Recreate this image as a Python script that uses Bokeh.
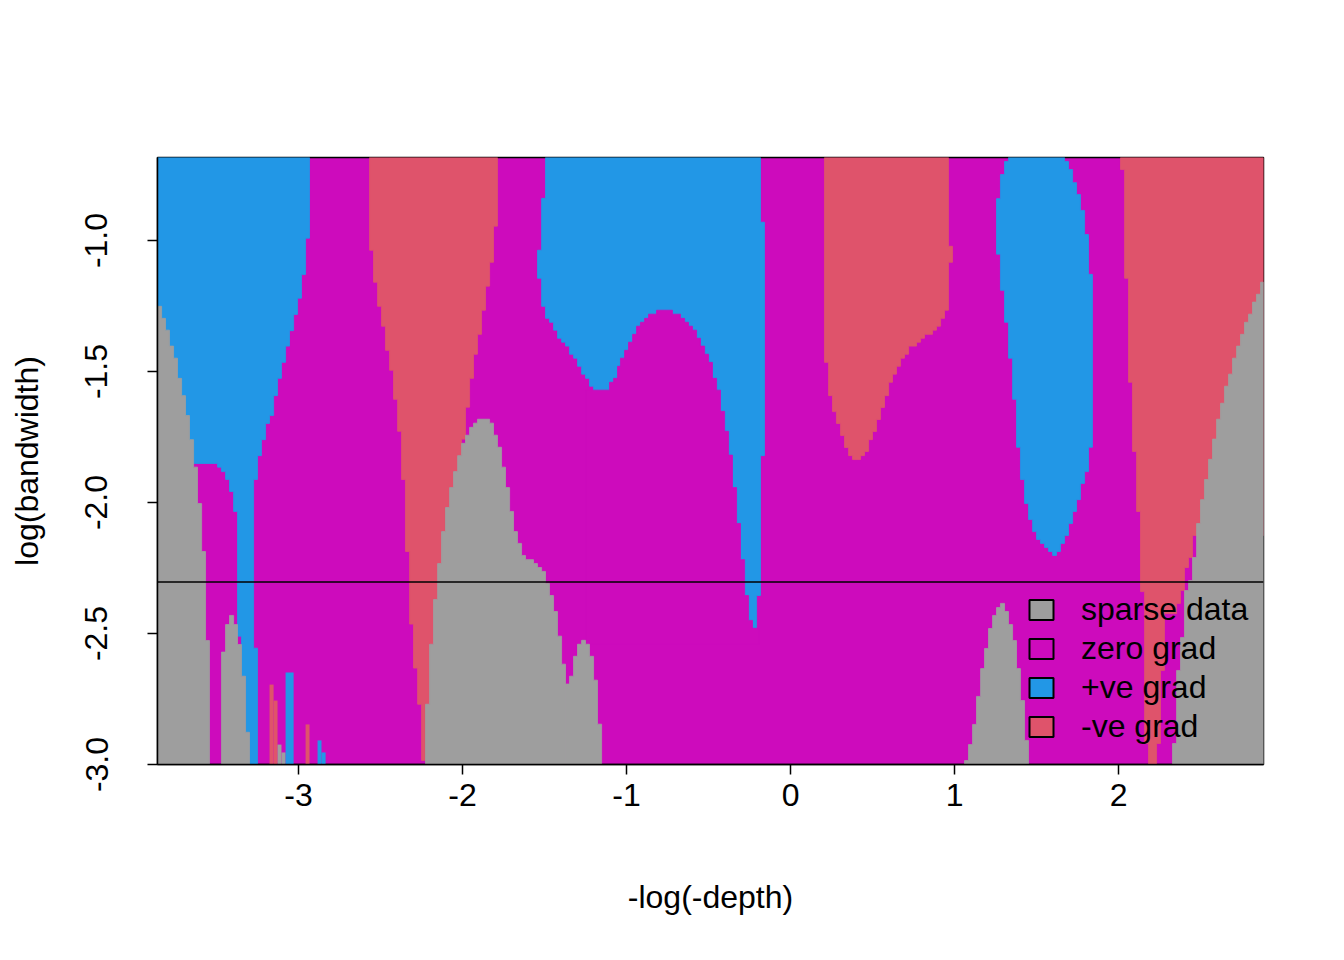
from bokeh.plotting import figure
from bokeh.models import Range1d, FixedTicker, PrintfTickFormatter, Span, Legend, LegendItem
from bokeh.embed import file_html
from bokeh.resources import INLINE

SPARSE = "#9E9E9E"
ZERO = "#CD0BBC"
POS = "#2297E6"
NEG = "#DF536B"

x_lim = (-3.860, 2.884)
y_lim = (-3.0, -0.683)
log_h = -2.303  # log(0.1)

x_ticks = [-3, -2, -1, 0, 1, 2]
y_ticks = [-3.0, -2.5, -2.0, -1.5, -1.0]
legend_labels = ["sparse data", "zero grad", "+ve grad", "-ve grad"]

# each boundary: x per band, band edges in y (top to bottom)
# +ve grad, left
pos1_left_x = [-3.860, -3.494, -3.470, -3.445, -3.421, -3.396, -3.372, -3.348, -3.323, -3.299]
pos1_left_y = [-0.683, -1.851, -1.865, -1.882, -1.912, -1.958, -2.034, -2.510, -2.663, -2.877, -3.0]
pos1_right_x = [-2.933, -2.957, -2.982, -3.006, -3.030, -3.055, -3.079, -3.104, -3.128, -3.152,
                -3.177, -3.201, -3.226, -3.250, -3.274, -3.250]
pos1_right_y = [-0.683, -0.991, -1.130, -1.220, -1.282, -1.344, -1.403, -1.465, -1.526, -1.592,
                -1.668, -1.698, -1.760, -1.821, -1.912, -2.556, -3.0]

# +ve grad, middle
pos2_left_x = [-1.494, -1.518, -1.543, -1.518, -1.494, -1.470, -1.445, -1.421, -1.396, -1.372,
               -1.348, -1.323, -1.299, -1.274, -1.250, -1.226, -1.201]
pos2_left_y = [-0.683, -0.839, -1.037, -1.144, -1.251, -1.297, -1.312, -1.342, -1.373, -1.388,
               -1.403, -1.434, -1.449, -1.480, -1.510, -1.526, -1.556, -2.480]
pos2_right_x = [-0.183, -0.159, -0.183, -0.207]
pos2_right_y = [-0.683, -0.930, -1.821, -2.355, -2.480]

# zero grad hump inside the middle +ve region (reaches a little past the blue below)
hump_left_x = [-0.817, -0.866, -0.890, -0.915, -0.939, -0.963, -0.988, -1.012, -1.037, -1.055,
               -1.079, -1.104, -1.250]
hump_left_y = [-1.266, -1.281, -1.297, -1.312, -1.327, -1.358, -1.388, -1.419, -1.449, -1.480,
               -1.526, -1.541, -1.571, -2.540]
hump_right_x = [-0.720, -0.671, -0.646, -0.622, -0.598, -0.573, -0.549, -0.524, -0.500, -0.476,
                -0.451, -0.427, -0.402, -0.378, -0.354, -0.329, -0.305, -0.280, -0.256, -0.232, -0.190]
hump_right_y = [-1.266, -1.281, -1.297, -1.312, -1.327, -1.342, -1.373, -1.403, -1.434, -1.465,
                -1.526, -1.571, -1.652, -1.728, -1.819, -1.943, -2.080, -2.218, -2.355, -2.450,
                -2.480, -2.540]

# +ve grad, right
pos3_left_x = [1.329, 1.305, 1.280, 1.256, 1.280, 1.305, 1.329, 1.354, 1.378, 1.402, 1.427, 1.451,
               1.476, 1.500, 1.524, 1.549, 1.573, 1.598]
pos3_left_y = [-0.683, -0.698, -0.748, -0.840, -1.052, -1.190, -1.312, -1.449, -1.606, -1.789,
               -1.912, -2.004, -2.065, -2.111, -2.141, -2.156, -2.172, -2.187, -2.202]
pos3_right_x = [1.671, 1.695, 1.720, 1.744, 1.768, 1.793, 1.817, 1.841, 1.817, 1.793, 1.768, 1.744,
                1.720, 1.695, 1.671, 1.646, 1.622]
pos3_right_y = [-0.683, -0.698, -0.729, -0.779, -0.824, -0.885, -0.977, -1.129, -1.789, -1.882,
                -1.927, -1.989, -2.034, -2.080, -2.126, -2.156, -2.187, -2.202]

# -ve grad
neg1_left_x = [-2.567, -2.543, -2.518, -2.494, -2.470, -2.445, -2.421, -2.396, -2.372, -2.348,
               -2.323, -2.299, -2.274, -2.250]
neg1_left_y = [-0.683, -1.037, -1.159, -1.251, -1.327, -1.419, -1.495, -1.606, -1.728, -1.912,
               -2.187, -2.464, -2.632, -2.770, -2.985]
neg1_right_x = [-1.787, -1.811, -1.835, -1.860, -1.884, -1.909, -1.933, -1.957, -1.982, -2.006,
                -2.030, -2.055, -2.079, -2.104, -2.128, -2.152, -2.177, -2.201, -2.226]
neg1_right_y = [-0.683, -0.945, -1.083, -1.174, -1.266, -1.358, -1.434, -1.526, -1.636, -1.758,
                -1.821, -1.882, -1.943, -2.019, -2.111, -2.233, -2.370, -2.541, -2.770, -2.985]

neg2_left_x = [0.207, 0.232, 0.256, 0.280, 0.305, 0.329, 0.354, 0.378]
neg2_left_y = [-0.683, -1.465, -1.592, -1.653, -1.698, -1.744, -1.790, -1.821, -1.836]
neg2_right_x = [0.963, 0.988, 0.963, 0.939, 0.915, 0.890, 0.866, 0.817, 0.793, 0.768, 0.720, 0.695,
                0.671, 0.646, 0.622, 0.598, 0.573, 0.549, 0.524, 0.500, 0.476, 0.451, 0.427]
neg2_right_y = [-0.683, -1.022, -1.083, -1.266, -1.297, -1.327, -1.342, -1.358, -1.373, -1.388,
                -1.403, -1.434, -1.449, -1.480, -1.510, -1.541, -1.592, -1.637, -1.683, -1.729,
                -1.760, -1.805, -1.821, -1.836]

neg3_left_x = [2.012, 2.037, 2.061, 2.085, 2.110, 2.134, 2.159, 2.183]
neg3_left_y = [-0.683, -0.729, -1.144, -1.541, -1.805, -2.034, -2.340, -2.920, -3.0]
neg3_right_x = [2.884, 2.451, 2.427, 2.402, 2.378, 2.354, 2.280, 2.256, 2.232]
neg3_right_y = [-0.683, -2.126, -2.210, -2.248, -2.336, -2.385, -2.424, -2.641, -2.920, -3.0]

# sparse data
sp1_left_x = [-3.860]
sp1_left_y = [-1.251, -3.0]
sp1_right_x = [-3.835, -3.811, -3.787, -3.762, -3.738, -3.713, -3.689, -3.665, -3.640, -3.616,
               -3.591, -3.567, -3.543]
sp1_right_y = [-1.251, -1.297, -1.342, -1.403, -1.449, -1.526, -1.592, -1.668, -1.760, -1.865,
               -2.004, -2.187, -2.527, -3.0]

sp2_left_x = [-3.421, -3.445, -3.470]
sp2_left_y = [-2.431, -2.466, -2.571, -3.0]
sp2_right_x = [-3.396, -3.372, -3.348, -3.323, -3.299]
sp2_right_y = [-2.431, -2.466, -2.542, -2.663, -2.877, -3.0]

sp3_left_x = [-1.909, -1.933, -1.957, -1.982, -2.006, -2.030, -2.055, -2.079, -2.104, -2.128,
              -2.152, -2.177, -2.201, -2.226]
sp3_left_y = [-1.682, -1.697, -1.713, -1.743, -1.774, -1.821, -1.882, -1.943, -2.019, -2.111,
              -2.233, -2.370, -2.541, -2.770, -3.0]
sp3_right_x = [-1.835, -1.811, -1.787, -1.762, -1.738, -1.713, -1.689, -1.665, -1.640, -1.616,
               -1.567, -1.543, -1.518, -1.494, -1.470, -1.445, -1.421, -1.396, -1.372]
sp3_right_y = [-1.682, -1.697, -1.743, -1.789, -1.865, -1.943, -2.034, -2.111, -2.156, -2.202,
               -2.218, -2.233, -2.248, -2.263, -2.309, -2.355, -2.416, -2.510, -2.617, -3.0]

sp4_left_x = [-1.274, -1.299, -1.323, -1.348, -1.372]
sp4_left_y = [-2.526, -2.541, -2.587, -2.663, -2.693, -3.0]
sp4_right_x = [-1.250, -1.226, -1.201, -1.177, -1.152]
sp4_right_y = [-2.526, -2.541, -2.587, -2.678, -2.846, -3.0]

sp5_left_x = [1.280, 1.256, 1.232, 1.207, 1.183, 1.159, 1.134, 1.110, 1.085, 1.061]
sp5_left_y = [-2.385, -2.401, -2.431, -2.481, -2.557, -2.634, -2.740, -2.847, -2.924, -2.985, -3.0]
sp5_right_x = [1.305, 1.329, 1.354, 1.378, 1.402, 1.427, 1.451]
sp5_right_y = [-2.385, -2.416, -2.466, -2.527, -2.634, -2.756, -2.908, -3.0]

sp6_left_x = [2.866, 2.841, 2.817, 2.793, 2.768, 2.744, 2.720, 2.695, 2.671, 2.646, 2.622, 2.598,
              2.573, 2.549, 2.524, 2.500, 2.476, 2.451, 2.427, 2.402, 2.378, 2.354, 2.329]
sp6_left_y = [-1.159, -1.205, -1.235, -1.281, -1.312, -1.358, -1.403, -1.449, -1.510, -1.556,
              -1.621, -1.682, -1.758, -1.835, -1.912, -1.989, -2.080, -2.210, -2.298, -2.336,
              -2.515, -2.641, -2.920, -3.0]
sp6_right_x = [2.884]
sp6_right_y = [-1.159, -3.0]

# single columns near the bottom left
neg_col_left = [-3.177, -3.152, -2.957]
neg_col_right = [-3.152, -3.128, -2.933]
neg_col_top = [-2.695, -2.756, -2.847]
sp_col_left = [-3.128, -3.104]
sp_col_right = [-3.104, -3.079]
sp_col_top = [-2.924, -2.954]
pos_col_left = [-3.079, -2.884, -2.860]
pos_col_right = [-3.030, -2.860, -2.835]
pos_col_top = [-2.649, -2.908, -2.954]


def stairs(xs, ys):
    px, py = [], []
    for i, x in enumerate(xs):
        px += [x, x]
        py += [ys[i], ys[i + 1]]
    return px, py


def region(lx, ly, rx, ry):
    ax, ay = stairs(lx, ly)
    bx, by = stairs(rx, ry)
    return ax + bx[::-1], ay + by[::-1]


def draw(p, regions, color):
    shapes = [region(*r) for r in regions]
    p.patches([s[0] for s in shapes], [s[1] for s in shapes],
              fill_color=color, line_color=color, line_width=0.8)


p = figure(width=1328, height=944, x_range=Range1d(*x_lim), y_range=Range1d(*y_lim),
           output_backend="svg", toolbar_location=None,
           min_border_left=157, min_border_right=65, min_border_top=157, min_border_bottom=180,
           background_fill_color=ZERO, border_fill_color="white")

draw(p, [(pos1_left_x, pos1_left_y, pos1_right_x, pos1_right_y),
         (pos2_left_x, pos2_left_y, pos2_right_x, pos2_right_y),
         (pos3_left_x, pos3_left_y, pos3_right_x, pos3_right_y)], POS)
draw(p, [(neg1_left_x, neg1_left_y, neg1_right_x, neg1_right_y),
         (neg2_left_x, neg2_left_y, neg2_right_x, neg2_right_y),
         (neg3_left_x, neg3_left_y, neg3_right_x, neg3_right_y)], NEG)
draw(p, [(hump_left_x, hump_left_y, hump_right_x, hump_right_y)], ZERO)
draw(p, [(sp1_left_x, sp1_left_y, sp1_right_x, sp1_right_y),
         (sp2_left_x, sp2_left_y, sp2_right_x, sp2_right_y),
         (sp3_left_x, sp3_left_y, sp3_right_x, sp3_right_y),
         (sp4_left_x, sp4_left_y, sp4_right_x, sp4_right_y),
         (sp5_left_x, sp5_left_y, sp5_right_x, sp5_right_y),
         (sp6_left_x, sp6_left_y, sp6_right_x, sp6_right_y)], SPARSE)

p.quad(left=neg_col_left, right=neg_col_right, top=neg_col_top, bottom=y_lim[0],
       fill_color=NEG, line_color=None)
p.quad(left=sp_col_left, right=sp_col_right, top=sp_col_top, bottom=y_lim[0],
       fill_color=SPARSE, line_color=None)
p.quad(left=pos_col_left, right=pos_col_right, top=pos_col_top, bottom=y_lim[0],
       fill_color=POS, line_color=None)

p.add_layout(Span(location=log_h, dimension="width", line_color="black", line_width=1.5))

# legend with boxed keys, no frame; the key renderers hold no visible data
nan = float("nan")
items = []
for lab, col in zip(legend_labels, [SPARSE, ZERO, POS, NEG]):
    r = p.quad(left=[nan], right=[nan], top=[nan], bottom=[nan], fill_color=col,
               line_color="black", line_width=2)
    items.append(LegendItem(label=lab, renderers=[r]))
legend = Legend(items=items, location=(869, 19), padding=0, margin=0, spacing=2,
                glyph_width=30, glyph_height=25, label_height=25, label_standoff=25,
                label_text_font="Liberation Sans", label_text_font_size="32px",
                label_text_color="black", background_fill_alpha=0, border_line_color=None)
p.add_layout(legend)

p.grid.visible = False
p.outline_line_color = "black"
p.outline_line_width = 1.5

p.xaxis.ticker = FixedTicker(ticks=x_ticks)
p.xaxis.formatter = PrintfTickFormatter(format="%d")
p.yaxis.ticker = FixedTicker(ticks=y_ticks)
p.yaxis.formatter = PrintfTickFormatter(format="%.1f")
p.yaxis.major_label_orientation = "vertical"
p.xaxis.axis_label = "-log(-depth)"
p.yaxis.axis_label = "log(bandwidth)"

for ax in (p.xaxis[0], p.yaxis[0]):
    ax.axis_line_color = "black"
    ax.axis_line_width = 1.5
    ax.major_tick_line_color = "black"
    ax.major_tick_line_width = 1.5
    ax.major_tick_out = 10
    ax.major_tick_in = 0
    ax.minor_tick_line_color = None
    ax.major_label_text_font = "Liberation Sans"
    ax.major_label_text_font_size = "32px"
    ax.major_label_text_color = "black"
    ax.axis_label_text_font = "Liberation Sans"
    ax.axis_label_text_font_size = "32px"
    ax.axis_label_text_font_style = "normal"
    ax.axis_label_text_color = "black"

p.xaxis.major_label_standoff = 9
p.xaxis.axis_label_standoff = 70
p.yaxis.major_label_standoff = 40
p.yaxis.axis_label_standoff = 38

open("out.html", "w").write(file_html(p, INLINE))
